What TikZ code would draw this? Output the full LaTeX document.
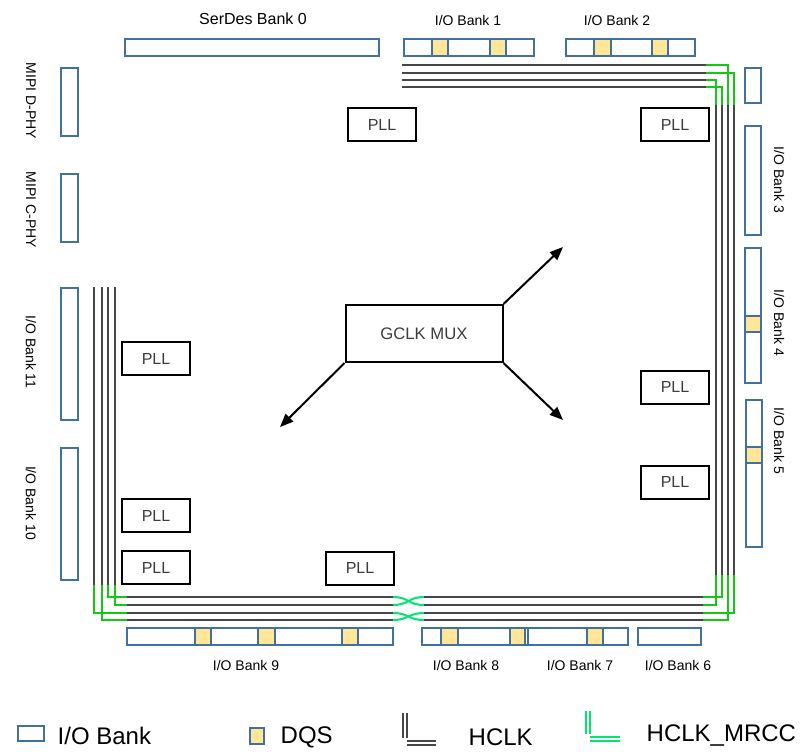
\documentclass[tikz,border=0pt]{standalone}
\usepackage{fontspec}
\setmainfont{Liberation Sans}
\usetikzlibrary{arrows.meta}

\definecolor{bankblue}{RGB}{65,113,156}
\definecolor{dqsyellow}{RGB}{255,230,153}
\definecolor{hclkgray}{RGB}{70,70,70}
\definecolor{mrccgreen}{RGB}{20,200,20}
\definecolor{swapgreen}{RGB}{0,230,110}
\definecolor{boxtext}{RGB}{60,60,60}

\tikzset{
  bank/.style={draw=bankblue, line width=2pt, fill=white},
  dqs/.style={draw=bankblue, line width=2pt, fill=dqsyellow},
  hclk/.style={draw=hclkgray, line width=1.5pt},
  mrcc/.style={draw=mrccgreen, line width=1.5pt},
  swap/.style={draw=swapgreen, line width=1.5pt},
  pllbox/.style={draw, line width=1.5pt, minimum width=51pt, minimum height=24.75pt, text=boxtext, font=\fontsize{12}{14}\selectfont},
  banklabel/.style={font=\fontsize{10.5}{12}\selectfont},
  legendlabel/.style={font=\fontsize{18}{20}\selectfont, anchor=west}
}

\begin{document}
\begin{tikzpicture}[x=0.75pt, y=-0.75pt]
    \useasboundingbox (0,0) rectangle (806,751);

    % HCLK spines (gray)
    \foreach \y in {65,73,80,87} \draw[hclk] (402,\y) -- (706,\y);
    \foreach \x in {716,722,728,734} \draw[hclk] (\x,105) -- (\x,575);
    \foreach \y in {597,605,613,620} {
        \draw[hclk] (127,\y) -- (393,\y);
        \draw[hclk] (424,\y) -- (703,\y);
    }
    \foreach \x in {94,102,108,115} \draw[hclk] (\x,287) -- (\x,585);

    % MRCC corners (green)
    \draw[mrcc] (706,65) -| (728,105);
    \draw[mrcc] (706,73) -| (734,105);
    \draw[mrcc] (706,80) -| (716,105);
    \draw[mrcc] (706,87) -| (722,105);
    \draw[mrcc] (722,575) |- (703,597);
    \draw[mrcc] (716,575) |- (703,605);
    \draw[mrcc] (734,575) |- (703,613);
    \draw[mrcc] (728,575) |- (703,620);
    \draw[mrcc] (108,585) |- (127,597);
    \draw[mrcc] (115,585) |- (127,605);
    \draw[mrcc] (94,585) |- (127,613);
    \draw[mrcc] (102,585) |- (127,620);

    % swap of the bottom spine
    \draw[swap] (393,597) .. controls (409,597) and (408,605) .. (424,605);
    \draw[swap] (393,605) .. controls (409,605) and (408,597) .. (424,597);
    \draw[swap] (393,613) .. controls (409,613) and (408,620) .. (424,620);
    \draw[swap] (393,620) .. controls (409,620) and (408,613) .. (424,613);

    % Top banks
    \draw[bank] (125,39) rectangle (379,56);
    \node[banklabel, font=\fontsize{12}{14}\selectfont] (serdes0) at (253,19) {SerDes Bank 0};
    \draw[bank] (404,39) rectangle (534,56);
    \draw[dqs] (432,39) rectangle (448,56);
    \draw[dqs] (490,39) rectangle (506,56);
    \node[banklabel] (bank1) at (468,20) {I/O Bank 1};
    \draw[bank] (566,39) rectangle (695,56);
    \draw[dqs] (594,39) rectangle (611,56);
    \draw[dqs] (652,39) rectangle (668,56);
    \node[banklabel] (bank2) at (617,20) {I/O Bank 2};

    % Right banks
    \draw[bank] (745,68) rectangle (761,103);
    \draw[bank] (745,126) rectangle (761,235);
    \node[banklabel, rotate=-90] (bank3) at (779,180) {I/O Bank 3};
    \draw[bank] (745,248) rectangle (761,383);
    \draw[dqs] (745,316) rectangle (761,332);
    \node[banklabel, rotate=-90] (bank4) at (779,323) {I/O Bank 4};
    \draw[bank] (746,400) rectangle (762,547);
    \draw[dqs] (746,447) rectangle (762,463);
    \node[banklabel, rotate=-90] (bank5) at (779,441) {I/O Bank 5};

    % Left banks
    \draw[bank] (61,68) rectangle (78,136);
    \node[banklabel, rotate=-90] (dphy) at (31,101) {MIPI D-PHY};
    \draw[bank] (61,174) rectangle (78,242);
    \node[banklabel, rotate=-90] (cphy) at (31,210) {MIPI C-PHY};
    \draw[bank] (61,288) rectangle (78,420);
    \node[banklabel, rotate=-90] (bank11) at (31,352) {I/O Bank 11};
    \draw[bank] (61,448) rectangle (78,580);
    \node[banklabel, rotate=-90] (bank10) at (31,503) {I/O Bank 10};

    % Bottom banks
    \draw[bank] (127,628) rectangle (393,645);
    \draw[dqs] (195,628) rectangle (211,645);
    \draw[dqs] (258,628) rectangle (275,645);
    \draw[dqs] (342,628) rectangle (358,645);
    \node[banklabel] (bank9) at (246,665) {I/O Bank 9};
    \draw[bank] (422,628) rectangle (528,645);
    \draw[dqs] (441,628) rectangle (458,645);
    \draw[dqs] (510,628) rectangle (525,645);
    \node[banklabel] (bank8) at (466,665) {I/O Bank 8};
    \draw[bank] (528,628) rectangle (628,645);
    \draw[dqs] (587,628) rectangle (603,645);
    \node[banklabel] (bank7) at (580,665) {I/O Bank 7};
    \draw[bank] (638,628) rectangle (701,645);
    \node[banklabel] (bank6) at (678,665) {I/O Bank 6};

    % PLLs
    \node[pllbox] (pllA) at (382,124.5) {PLL};
    \node[pllbox] (pllB) at (675,124.5) {PLL};
    \node[pllbox] (pllC) at (156,358.5) {PLL};
    \node[pllbox] (pllD) at (675,387) {PLL};
    \node[pllbox] (pllE) at (675,482) {PLL};
    \node[pllbox] (pllF) at (156,515.5) {PLL};
    \node[pllbox] (pllG) at (156,567.5) {PLL};
    \node[pllbox] (pllH) at (360,568) {PLL};

    % Global clock mux
    \node[draw, line width=1.5pt, minimum width=117.75pt, minimum height=42.75pt,
          text=boxtext, font=\fontsize{12.5}{14}\selectfont] (mux) at (424,333.5) {GCLK MUX};
    \coordinate (toNE) at (563,247);
    \coordinate (toSE) at (563,420);
    \coordinate (toSW) at (280,427);
    \draw[line width=1.5pt, -{Triangle[length=10pt,width=8pt]}] (mux.north east) -- (toNE);
    \draw[line width=1.5pt, -{Triangle[length=10pt,width=8pt]}] (mux.south east) -- (toSE);
    \draw[line width=1.5pt, -{Triangle[length=10pt,width=8pt]}] (mux.south west) -- (toSW);

    % Legend
    \draw[bank] (18,726) rectangle (44,741);
    \node[legendlabel] (legbank) at (53,736) {I/O Bank};
    \draw[dqs] (250,728) rectangle (264,744);
    \node[legendlabel] (legdqs) at (276,737) {DQS};
    \draw[hclk, line width=1.2pt] (403,713) -- (403,738);
    \draw[hclk, line width=1.2pt] (407,713) -- (407,738);
    \draw[hclk, line width=1.2pt] (407,741) -- (436,741);
    \draw[hclk, line width=1.2pt] (407,745) -- (436,745);
    \node[legendlabel] (leghclk) at (464,737) {HCLK};
    \draw[swap, line width=1.2pt] (586,711) -- (586,734);
    \draw[swap, line width=1.2pt] (590,711) -- (590,734);
    \draw[swap, line width=1.2pt] (590,737) -- (620,737);
    \draw[swap, line width=1.2pt] (590,741) -- (620,741);
    \node[legendlabel] (legmrcc) at (642,735) {HCLK\_MRCC};
\end{tikzpicture}
\end{document}
